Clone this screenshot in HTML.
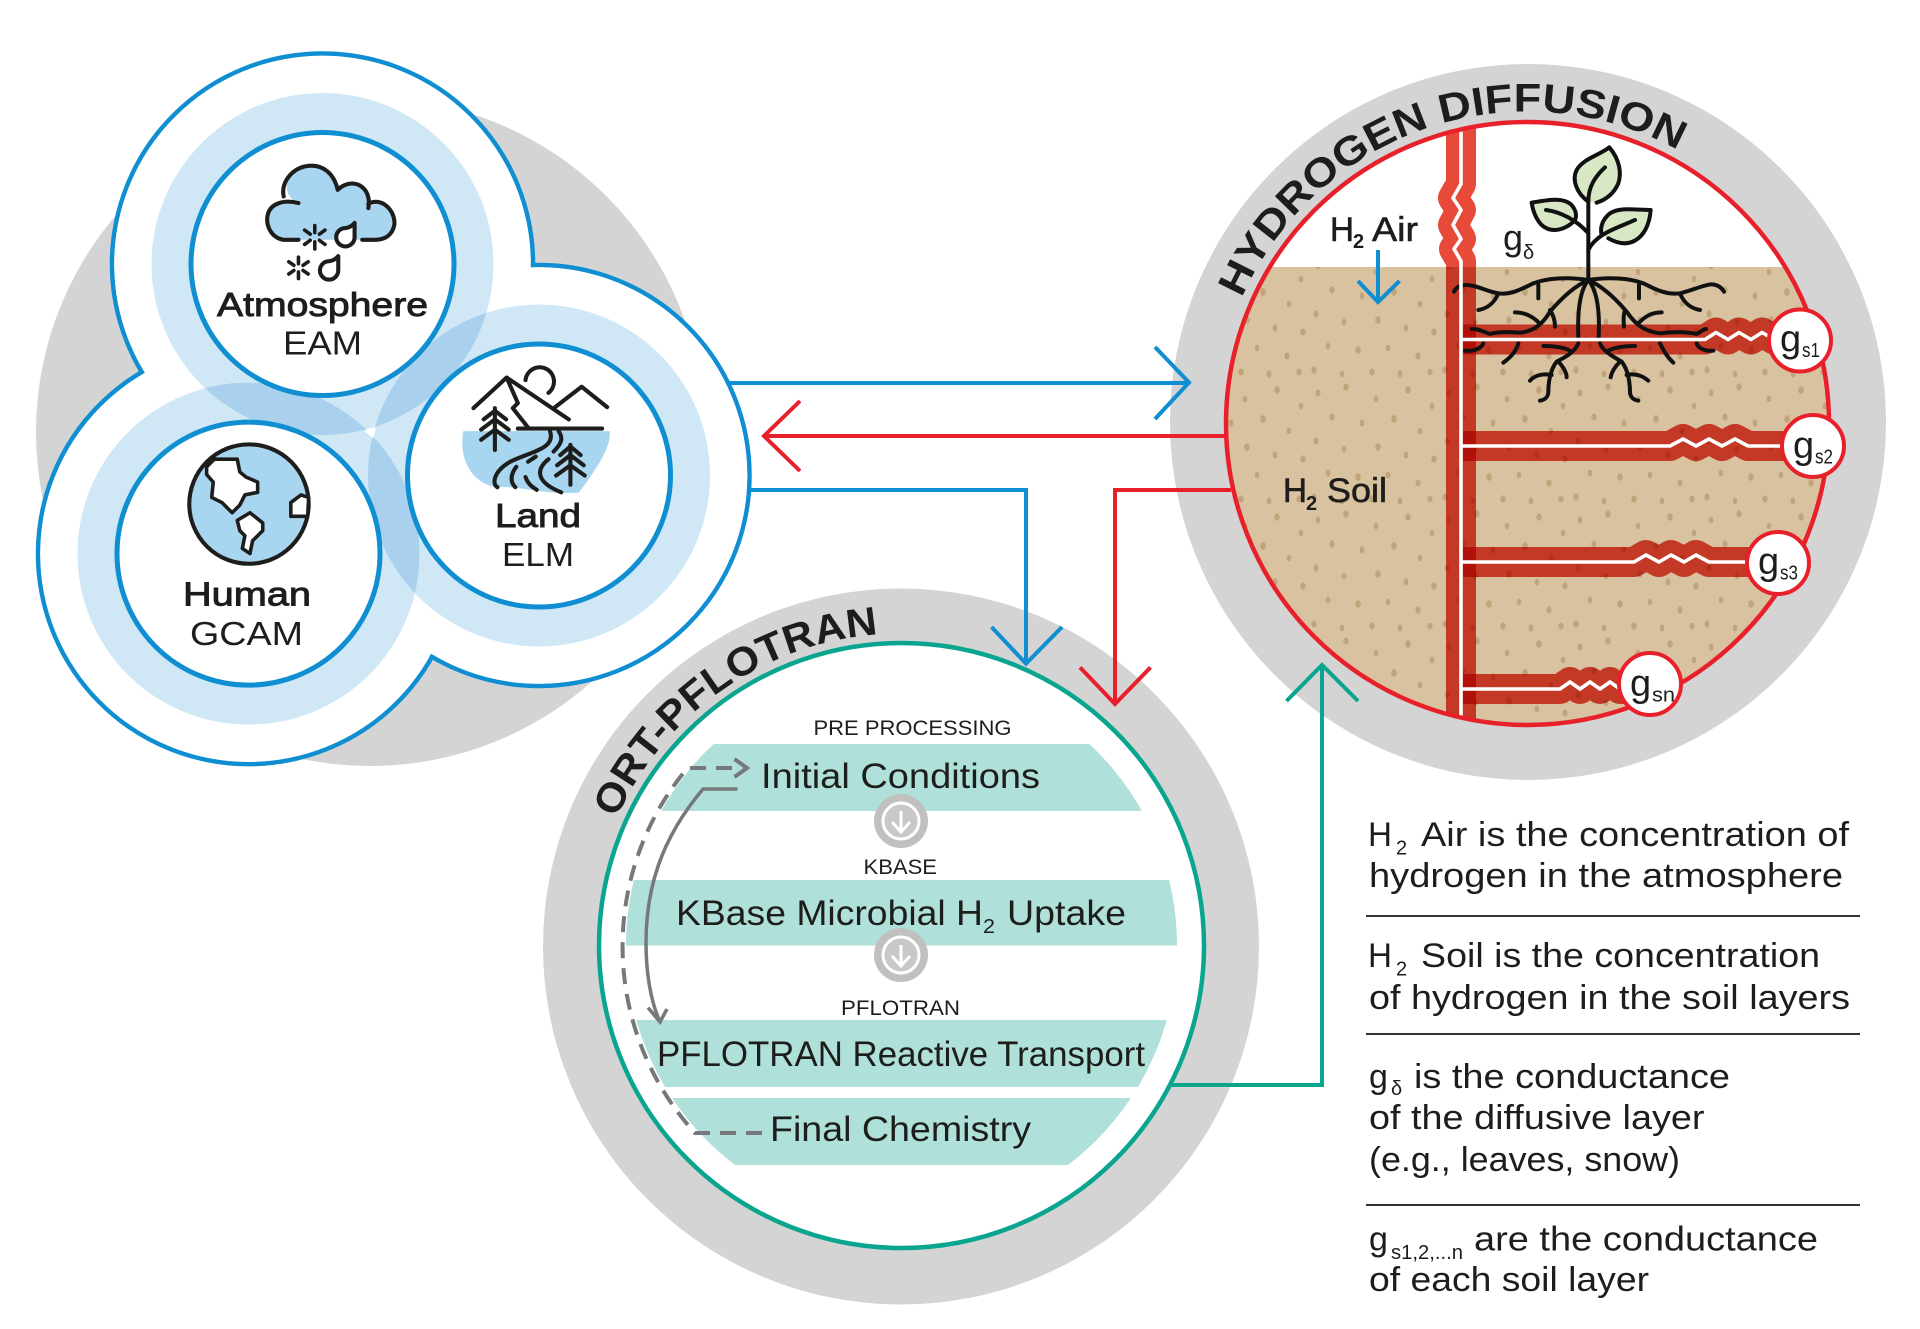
<!DOCTYPE html>
<html><head><meta charset="utf-8"><style>
html,body{margin:0;padding:0;background:#fff;width:1920px;height:1329px;overflow:hidden}
svg{display:block;position:absolute;left:0;top:0}
text{font-family:"Liberation Sans",sans-serif;fill:#1d1d1b}
.b{font-size:34px}.l{font-size:33px}.lb{font-size:33px;stroke:#1d1d1b;stroke-width:.9px}
.t{font-size:35px}.s{font-size:21px}.sm{font-size:20px}.h{font-size:40px;font-weight:bold}
.m{font-size:34px;stroke:#1d1d1b;stroke-width:.6px}
.i{fill:none;stroke:#1d1d1b;stroke-width:8;stroke-linecap:round;stroke-linejoin:round}
.a{fill:none;stroke-width:4;stroke-linejoin:miter}
</style></head><body>
<svg width="1920" height="1329" viewBox="0 0 1920 1329" xmlns="http://www.w3.org/2000/svg">
<defs>
<clipPath id="hc"><circle cx="1527.5" cy="423.5" r="301.5"/></clipPath>
<clipPath id="tc"><circle cx="901.5" cy="945.5" r="275.5"/></clipPath>
<pattern id="dots" width="131" height="127" patternUnits="userSpaceOnUse">
<g fill="#c2a47b">
<ellipse cx="8" cy="12" rx="2.5" ry="3.6"/><ellipse cx="36" cy="6" rx="2.7" ry="3.6"/><ellipse cx="66" cy="18" rx="2.4" ry="3.2"/><ellipse cx="98" cy="9" rx="2.8" ry="3.8"/><ellipse cx="122" cy="25" rx="2.4" ry="3.2"/>
<ellipse cx="22" cy="36" rx="2.7" ry="3.6"/><ellipse cx="52" cy="42" rx="2.4" ry="3.6"/><ellipse cx="84" cy="38" rx="2.8" ry="3.9"/><ellipse cx="110" cy="50" rx="2.4" ry="3.2"/>
<ellipse cx="6" cy="60" rx="2.6" ry="3.6"/><ellipse cx="34" cy="68" rx="2.4" ry="3.3"/><ellipse cx="68" cy="66" rx="2.8" ry="3.8"/><ellipse cx="96" cy="74" rx="2.4" ry="3.6"/><ellipse cx="124" cy="78" rx="2.7" ry="3.6"/>
<ellipse cx="18" cy="92" rx="2.4" ry="3.4"/><ellipse cx="48" cy="96" rx="2.8" ry="3.8"/><ellipse cx="78" cy="94" rx="2.4" ry="3.2"/><ellipse cx="108" cy="102" rx="2.6" ry="3.6"/>
<ellipse cx="4" cy="116" rx="2.6" ry="3.6"/><ellipse cx="32" cy="120" rx="2.4" ry="3.4"/><ellipse cx="62" cy="118" rx="2.7" ry="3.6"/><ellipse cx="90" cy="120" rx="2.4" ry="3.6"/><ellipse cx="120" cy="118" rx="2.6" ry="3.4"/>
</g></pattern>
<path id="harc" d="M1241.8 298.2 A312 312 0 0 1 1688 156" fill="none"/>
<path id="tarc" d="M616.5 818.6 A312 312 0 0 1 890.6 633.7" fill="none"/>
</defs>

<!-- grey discs -->
<circle cx="370" cy="432" r="334" fill="#d4d4d4"/>
<circle cx="1528" cy="422" r="358" fill="#d4d4d4"/>
<circle cx="901" cy="946.5" r="358" fill="#d4d4d4"/>

<!-- ESM cluster -->
<g fill="#fff" stroke="#0f8ed2" stroke-width="4.5">
<circle cx="322.5" cy="264" r="210.5"/><circle cx="248.5" cy="553.6" r="210.5"/><circle cx="539" cy="475.5" r="210.5"/></g>
<g fill="#fff"><circle cx="322.5" cy="264" r="208.3"/><circle cx="248.5" cy="553.6" r="208.3"/><circle cx="539" cy="475.5" r="208.3"/></g>
<circle cx="322.5" cy="264" r="171" fill="#d0e7f6" style="mix-blend-mode:multiply"/>
<circle cx="248.5" cy="553.6" r="171" fill="#d0e7f6" style="mix-blend-mode:multiply"/>
<circle cx="539" cy="475.5" r="171" fill="#d0e7f6" style="mix-blend-mode:multiply"/>
<polygon points="364,431 376,429 373,438" fill="#fff"/>
<g fill="#fff" stroke="#0f8ed2" stroke-width="5">
<circle cx="322.5" cy="264" r="131.5"/><circle cx="248.5" cy="553.6" r="131.5"/><circle cx="539" cy="475.5" r="131.5"/></g>

<!-- icons drawn in 1.96x space -->
<g transform="scale(.5102)">
 <path d="M585 470H555C530 465 520 440 525 420C530 400 555 390 585 398C550 385 555 335 600 325C630 320 655 340 662 372C690 345 730 365 722 408C745 385 775 410 773 440C770 460 755 470 735 470Z" fill="#a8d6f1"/>
 <path class="i" d="M585 470H555C530 465 520 440 525 420C530 400 555 390 585 398M556 385C550 355 575 328 605 325C635 322 655 342 662 372M662 372C690 345 730 365 722 408M722 400C745 385 775 410 773 440C770 460 755 470 735 470H710"/>
 <g class="i" style="stroke-width:7"><path d="M617 442V456M617 474V488M597 451L608 459M626 471L637 479M597 479L608 471M626 459L637 451"/></g>
 <g class="i" style="stroke-width:7"><path d="M585 504V517M585 533V546M566 513L576 520M594 530L604 537M566 537L576 530M594 520L604 513"/></g>
 <path class="i" d="M695 437V465A18 18 0 1 1 677 447Q687 446 695 437Z" style="fill:#fff"/>
 <path class="i" d="M663 502V530A18 18 0 1 1 645 512Q655 511 663 502Z" style="fill:#fff"/>

 <circle cx="488" cy="988" r="117" fill="#a8d6f1" stroke="#1d1d1b" stroke-width="8"/>
 <path d="M405 915L420 900L465 900L470 925L482 935L505 945L505 965L480 970L470 990L455 1005L435 985L415 975L418 945L405 930Z" fill="#fff" stroke="#1d1d1b" stroke-width="7" stroke-linejoin="round"/>
 <path d="M465 1020L490 1005L515 1025L515 1040L495 1060L490 1085L475 1075L480 1050L470 1040Z" fill="#fff" stroke="#1d1d1b" stroke-width="7" stroke-linejoin="round"/>
 <path d="M570 985L590 970L605 975L603 1012L570 1012Z" fill="#fff" stroke="#1d1d1b" stroke-width="7" stroke-linejoin="round"/>

 <path d="M908 845H1195C1200 875 1165 925 1135 965C1080 972 1010 950 970 955C925 945 898 900 908 845Z" fill="#a8d6f1"/>
 <path class="i" d="M928 800L993 740L1115 822M993 740L1015 790L1005 800L1035 838M1088 798L1140 758L1190 798M1030 745A28 28 0 1 1 1075 770M1015 840H1180"/>
 <path class="i" d="M970 800V882M948 822L970 805L992 822M943 842L970 822L997 842M943 862L970 842L997 862"/>
 <path class="i" d="M1118 872V950M1098 892L1118 875L1138 892M1092 912L1118 892L1144 912M1090 932L1118 912L1146 932"/>
 <path class="i" d="M1078 845C1090 880 1040 885 1000 905C965 925 965 950 975 955M1095 845C1105 860 1100 870 1085 885M1012 915C1000 930 1000 945 1010 955M1030 935C1035 950 1045 955 1052 960M1035 905L1050 895M1075 900C1050 920 1050 945 1100 965"/>
</g>

<text class="lb" x="217" y="316" textLength="211" lengthAdjust="spacingAndGlyphs">Atmosphere</text>
<text class="l" x="283" y="354.6" textLength="79" lengthAdjust="spacingAndGlyphs">EAM</text>
<text class="lb" x="495" y="527" textLength="86" lengthAdjust="spacingAndGlyphs">Land</text>
<text class="l" x="502" y="566" textLength="72" lengthAdjust="spacingAndGlyphs">ELM</text>
<text class="lb" x="183" y="605.6" textLength="128" lengthAdjust="spacingAndGlyphs">Human</text>
<text class="l" x="190" y="645" textLength="113" lengthAdjust="spacingAndGlyphs">GCAM</text>

<!-- hydrogen diffusion disc -->
<g clip-path="url(#hc)">
 <rect x="1200" y="100" width="660" height="660" fill="#fff"/>
 <rect x="1200" y="267" width="660" height="480" fill="#d8c2a0"/>
 <rect x="1200" y="267" width="660" height="480" fill="url(#dots)"/>
 <g style="mix-blend-mode:multiply" fill="none" stroke="#e84a3a" stroke-linejoin="round">
  <path stroke-width="30" d="M1461 110V184L1453 198L1461 210L1453 225L1461 239L1454 249L1461 261V740"/>
 </g>
 <g style="mix-blend-mode:multiply" fill="none" stroke="#e84a3a" stroke-linejoin="round">
  <path stroke-width="30" d="M1463 339.5H1705l11 -7l12 7l11 -7l12 7l11 -7l12 7H1790"/>
  <path stroke-width="30" d="M1463 446H1670l13 -7l13 7l13 -7l13 7l13 -7l13 7H1800"/>
  <path stroke-width="30" d="M1463 562H1634l12 -7l13 7l12 -7l13 7l12 -7l13 7H1770"/>
  <path stroke-width="30" d="M1463 689H1560l10 -7l10 7l10 -7l10 7l10 -7l10 7H1640"/>
 </g>
 <!-- plant -->
 <g transform="translate(1440,130) scale(.3333)">
  <g fill="#d8e8c4" stroke="#111" stroke-width="12" stroke-linecap="round" stroke-linejoin="round">
   <path d="M445 215C410 190 395 150 410 120C430 85 480 75 508 52C540 90 545 130 535 160C520 195 495 210 470 218L445 215Z" stroke="none"/>
   <path d="M445 215C410 190 395 150 410 120C430 85 480 75 508 52C540 90 545 130 535 160C520 195 495 210 470 218" fill="none"/>
   <path d="M275 218C320 210 370 200 395 225C415 250 410 270 395 280C370 300 340 305 320 295C295 285 280 250 275 218Z"/>
   <path d="M632 240C590 240 540 230 510 250C485 270 480 295 485 315L505 325C540 345 570 345 595 325C620 305 630 270 632 240Z" stroke="none"/>
   <path d="M485 315C480 295 485 270 510 250C540 230 590 240 632 240C630 270 620 305 595 325C570 345 540 345 505 325" fill="none"/>
  </g>
  <g fill="none" stroke="#111" stroke-width="12" stroke-linecap="round" stroke-linejoin="round">
   <path d="M445 215C445 170 465 140 495 112M318 240C360 245 410 270 445 310M445 360C470 310 530 295 585 270M445 215V450"/>
   <path d="M445 450C380 440 320 445 280 460C240 480 210 495 175 490C140 485 110 465 80 465C60 465 50 470 42 485M175 490C165 515 145 535 115 540M295 465V505"/>
   <path d="M445 450C400 470 360 510 330 545C310 580 280 605 240 608C200 605 170 605 150 612C130 605 110 595 95 597M225 547C260 547 285 565 300 582M330 540C340 555 345 570 345 590M130 640C125 655 100 665 75 662M235 640C230 660 215 680 190 698"/>
   <path d="M445 450C420 480 412 540 415 620M415 640C405 665 380 680 350 695M310 648C350 648 380 655 395 665M350 695C330 720 325 760 325 785C325 800 315 810 300 812M270 752C285 735 310 730 335 735M355 695C365 705 380 725 380 742"/>
   <path d="M445 450C470 480 480 540 476 620M480 640C490 665 520 680 545 695M585 648C540 648 515 655 500 665M545 695C565 720 570 760 570 785C570 800 580 810 595 812M625 752C605 735 585 730 560 735M540 695C525 710 515 725 512 742"/>
   <path d="M445 450C490 470 530 510 560 545C590 590 620 605 660 610C700 605 740 605 770 612C785 605 785 600 798 597M665 547C630 547 610 565 595 580M555 540C550 555 550 570 552 590M660 640C670 660 680 680 700 698M770 640C775 655 795 665 820 662"/>
   <path d="M445 450C510 440 570 445 610 460C650 480 680 495 720 490C760 480 790 465 815 463C830 463 845 472 852 485M720 490C730 515 750 535 780 540M597 465V505"/>
  </g>
 </g>
 <g fill="none" stroke="#fff" stroke-width="3.6" stroke-linejoin="round">
  <path d="M1461 110V184L1453 198L1461 210L1453 225L1461 239L1454 249L1461 261V740"/>
  <path d="M1461 339.5H1705l11 -7l12 7l11 -7l12 7l11 -7l12 7H1790"/>
  <path d="M1461 446H1670l13 -7l13 7l13 -7l13 7l13 -7l13 7H1800"/>
  <path d="M1461 562H1634l12 -7l13 7l12 -7l13 7l12 -7l13 7H1770"/>
  <path d="M1461 689H1560l10 -7l10 7l10 -7l10 7l10 -7l10 7H1640"/>
 </g>
</g>
<circle cx="1527.5" cy="423.5" r="301.5" fill="none" stroke="#e8202a" stroke-width="4.5"/>
<g fill="#fff" stroke="#e8202a" stroke-width="4">
 <circle cx="1800" cy="340.5" r="31"/><circle cx="1813" cy="446" r="31"/><circle cx="1778" cy="563" r="31"/><circle cx="1650" cy="684" r="31"/>
</g>
<g>
 <text x="1780" y="351.4" style="font-size:38px">g</text><text class="sm" x="1802" y="357" textLength="18" lengthAdjust="spacingAndGlyphs">s1</text>
 <text x="1793" y="458" style="font-size:38px">g</text><text class="sm" x="1815" y="463.5" textLength="18" lengthAdjust="spacingAndGlyphs">s2</text>
 <text x="1758" y="574" style="font-size:38px">g</text><text class="sm" x="1780" y="579.5" textLength="18" lengthAdjust="spacingAndGlyphs">s3</text>
 <text x="1630" y="696" style="font-size:38px">g</text><text class="sm" x="1652" y="701.5" textLength="23" lengthAdjust="spacingAndGlyphs">sn</text>
</g>
<text class="h"><textPath href="#harc" textLength="518" lengthAdjust="spacingAndGlyphs">HYDROGEN DIFFUSION</textPath></text>
<text class="m" x="1330" y="241" textLength="24" lengthAdjust="spacingAndGlyphs">H</text>
<text class="sm" x="1353" y="248" style="font-weight:bold">2</text>
<text class="m" x="1372" y="241" textLength="46" lengthAdjust="spacingAndGlyphs">Air</text>
<text style="font-size:36px" x="1503" y="250">g</text><text class="sm" x="1523" y="259">δ</text>
<text class="m" x="1283" y="502" textLength="24" lengthAdjust="spacingAndGlyphs">H</text>
<text class="sm" x="1306" y="510" style="font-weight:bold">2</text>
<text class="m" x="1327" y="502" textLength="60" lengthAdjust="spacingAndGlyphs">Soil</text>
<path class="a" stroke="#0f8ed2" d="M1378 250V302M1358 281L1378 302L1399.5 281"/>

<!-- ORT-PFLOTRAN disc -->
<circle cx="901.5" cy="945.5" r="302.5" fill="#fff" stroke="#0aa58f" stroke-width="4.5"/>
<g clip-path="url(#tc)" fill="#b0e0da">
 <rect x="600" y="744" width="620" height="67"/><rect x="600" y="880" width="620" height="65.5"/>
 <rect x="600" y="1020" width="620" height="67"/><rect x="600" y="1098" width="620" height="67"/>
</g>
<text class="h"><textPath href="#tarc" textLength="336" lengthAdjust="spacingAndGlyphs">ORT-PFLOTRAN</textPath></text>
<text class="s" x="813.5" y="735" textLength="198" lengthAdjust="spacingAndGlyphs">PRE PROCESSING</text>
<text class="t" x="761" y="788" textLength="279" lengthAdjust="spacingAndGlyphs">Initial Conditions</text>
<text class="s" x="863.5" y="874" textLength="73.5" lengthAdjust="spacingAndGlyphs">KBASE</text>
<text class="t" x="676" y="925" textLength="307" lengthAdjust="spacingAndGlyphs">KBase Microbial H</text>
<text class="sm" x="983" y="933" textLength="12" lengthAdjust="spacingAndGlyphs">2</text>
<text class="t" x="1007" y="925" textLength="119" lengthAdjust="spacingAndGlyphs">Uptake</text>
<text class="s" x="841" y="1015" textLength="119" lengthAdjust="spacingAndGlyphs">PFLOTRAN</text>
<text class="t" x="657" y="1066" textLength="488" lengthAdjust="spacingAndGlyphs">PFLOTRAN Reactive Transport</text>
<text class="t" x="770" y="1141" textLength="261" lengthAdjust="spacingAndGlyphs">Final Chemistry</text>
<g fill="#c0c0be"><circle cx="901" cy="821" r="27"/><circle cx="901" cy="955" r="27"/></g>
<g fill="#c8c8c6" stroke="#fff" stroke-width="3"><circle cx="901" cy="821" r="18"/><circle cx="901" cy="955" r="18"/></g>
<path d="M901 811V831M892 822L901 832L910 822M901 945V965M892 956L901 966L910 956" fill="none" stroke="#fff" stroke-width="3"/>
<path d="M762 1133H695A277 277 0 0 1 687.5 768H742" fill="none" stroke="#77787b" stroke-width="4" stroke-dasharray="16 10"/>
<path d="M734.5 759L747 768L734.5 777" fill="none" stroke="#77787b" stroke-width="4"/>
<path d="M737.5 789H703C660 840 646 890 646 943C646 970 650 1000 660 1022M648 1007.6L660 1022L667 1009" fill="none" stroke="#77787b" stroke-width="3.5"/>

<!-- connectors -->
<path class="a" stroke="#0f8ed2" d="M730 383H1188M1155 347L1189 382.5L1155 419"/>
<path class="a" stroke="#e8202a" d="M1226 436H765M800 401L764 436L800 471"/>
<path class="a" stroke="#0f8ed2" d="M750 490H1026V662M991.5 627L1026 663.6L1062 627"/>
<path class="a" stroke="#e8202a" d="M1231 490H1115V702M1080 667.4L1115 704L1150.5 667.4"/>
<path class="a" stroke="#0aa58f" d="M1169 1085H1322V667M1286.5 701L1322 665L1358 701"/>

<!-- legend -->
<g>
<text class="b" x="1368" y="846" textLength="24" lengthAdjust="spacingAndGlyphs">H</text><text class="sm" x="1396" y="854.6">2</text>
<text class="b" x="1421" y="846" textLength="428" lengthAdjust="spacingAndGlyphs">Air is the concentration of</text>
<text class="b" x="1369" y="887" textLength="474" lengthAdjust="spacingAndGlyphs">hydrogen in the atmosphere</text>
<text class="b" x="1368" y="967" textLength="24" lengthAdjust="spacingAndGlyphs">H</text><text class="sm" x="1396" y="975.6">2</text>
<text class="b" x="1421" y="967" textLength="399" lengthAdjust="spacingAndGlyphs">Soil is the concentration</text>
<text class="b" x="1369" y="1009" textLength="481" lengthAdjust="spacingAndGlyphs">of hydrogen in the soil layers</text>
<text class="b" x="1369" y="1088">g</text><text class="sm" x="1391" y="1095">δ</text>
<text class="b" x="1414" y="1088" textLength="316" lengthAdjust="spacingAndGlyphs">is the conductance</text>
<text class="b" x="1369" y="1129" textLength="335.5" lengthAdjust="spacingAndGlyphs">of the diffusive layer</text>
<text class="b" x="1369" y="1171" textLength="311" lengthAdjust="spacingAndGlyphs">(e.g., leaves, snow)</text>
<text class="b" x="1369" y="1250.5">g</text><text class="sm" x="1391" y="1259" textLength="72" lengthAdjust="spacingAndGlyphs">s1,2,...n</text>
<text class="b" x="1474" y="1250.5" textLength="344" lengthAdjust="spacingAndGlyphs">are the conductance</text>
<text class="b" x="1369" y="1291" textLength="280" lengthAdjust="spacingAndGlyphs">of each soil layer</text>
</g>
<g stroke="#333" stroke-width="2"><path d="M1366 916H1860M1366 1034H1860M1366 1205H1860"/></g>
</svg>
</body></html>
